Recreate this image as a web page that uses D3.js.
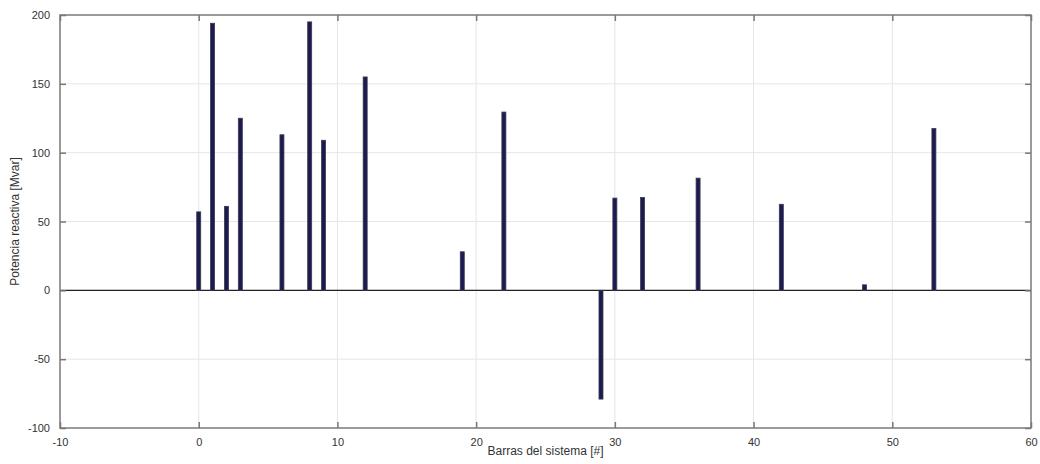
<!DOCTYPE html>
<html>
<head>
<meta charset="utf-8">
<script src="https://cdn.jsdelivr.net/npm/d3@7"></script>
<style>
  body { margin:0; background:#fff; }
  text { font-family: "Liberation Sans", Arial, sans-serif; fill:#333; }
</style>
</head>
<body>
<div class="canvas"></div>
<script>
// barras del sistema y potencia reactiva inyectada
const buses = [0, 1, 2, 3, 6, 8, 9, 12, 19, 22, 29, 30, 32, 36, 42, 48, 53]
const qMvar = [57, 194, 61, 125, 113, 195, 109, 155, 28, 129.5, -79, 67, 67.5, 81.5, 62.5, 4, 117.5]
const xTicks = [-10, 0, 10, 20, 30, 40, 50, 60]
const yTicks = [-100, -50, 0, 50, 100, 150, 200]

const dim = { width:1040, height:464 }
const m = { top:15, right:9, bottom:36, left:60 }
const w = dim.width - m.left - m.right
const h = dim.height - m.top - m.bottom

const svg = d3.select(".canvas").append("svg").attr("width",dim.width).attr("height",dim.height)
const graph = svg.append("g").attr("transform",`translate(${m.left},${m.top})`)

const x = d3.scaleLinear().domain([-10,60]).range([0,w])
const y = d3.scaleLinear().domain([-100,200]).range([h,0])

// grid
graph.append("g").selectAll("line").data(xTicks.slice(1,-1)).enter().append("line")
  .attr("x1",d=>x(d)).attr("x2",d=>x(d)).attr("y1",0).attr("y2",h)
  .attr("stroke","#e6e6e6").attr("stroke-width",1)
graph.append("g").selectAll("line").data(yTicks.slice(1,-1)).enter().append("line")
  .attr("y1",d=>y(d)).attr("y2",d=>y(d)).attr("x1",0).attr("x2",w)
  .attr("stroke","#e6e6e6").attr("stroke-width",1)

// zero line
graph.append("line").attr("x1",0).attr("x2",w).attr("y1",y(0)).attr("y2",y(0))
  .attr("stroke","#222").attr("stroke-width",1.2)

// bars
const bw = 4
graph.selectAll("rect.bar").data(buses).enter().append("rect")
  .attr("class","bar")
  .attr("x",(d)=>x(d)-bw/2)
  .attr("width",bw)
  .attr("y",(d,i)=>y(Math.max(0,qMvar[i])))
  .attr("height",(d,i)=>Math.abs(y(qMvar[i])-y(0)))
  .attr("fill","#1c1a52")
  .attr("stroke","#3a3a4a")
  .attr("stroke-width",0.8)

// axes with inner ticks
const fmt = d => String(d)
const ax = (gen, tr) => graph.append("g").attr("transform",tr).call(gen)
const styleAxis = g => {
  g.select(".domain").remove()
  g.selectAll(".tick line").attr("stroke","#777").attr("stroke-width",1.5)
  g.selectAll("text").attr("font-size",11).attr("fill","#333")
}
ax(d3.axisBottom(x).tickValues(xTicks).tickSize(-6).tickPadding(10).tickFormat(fmt), `translate(0,${h})`).call(styleAxis)
ax(d3.axisTop(x).tickValues(xTicks).tickSize(-6).tickFormat(""), `translate(0,0)`).call(styleAxis)
ax(d3.axisLeft(y).tickValues(yTicks).tickSize(-6).tickPadding(10).tickFormat(fmt), `translate(0,0)`).call(styleAxis)
ax(d3.axisRight(y).tickValues(yTicks).tickSize(-6).tickFormat(""), `translate(${w},0)`).call(styleAxis)

// frame
graph.append("rect").attr("x",0).attr("y",0).attr("width",w).attr("height",h)
  .attr("fill","none").attr("stroke","#7a7a7a").attr("stroke-width",1.5)

// labels
svg.append("text").attr("x",m.left+w/2).attr("y",455).attr("text-anchor","middle")
  .attr("font-size",12).text("Barras del sistema [#]")
svg.append("text").attr("transform",`translate(19,${m.top+h/2}) rotate(-90)`)
  .attr("text-anchor","middle").attr("font-size",12).text("Potencia reactiva [Mvar]")
</script>
</body>
</html>
